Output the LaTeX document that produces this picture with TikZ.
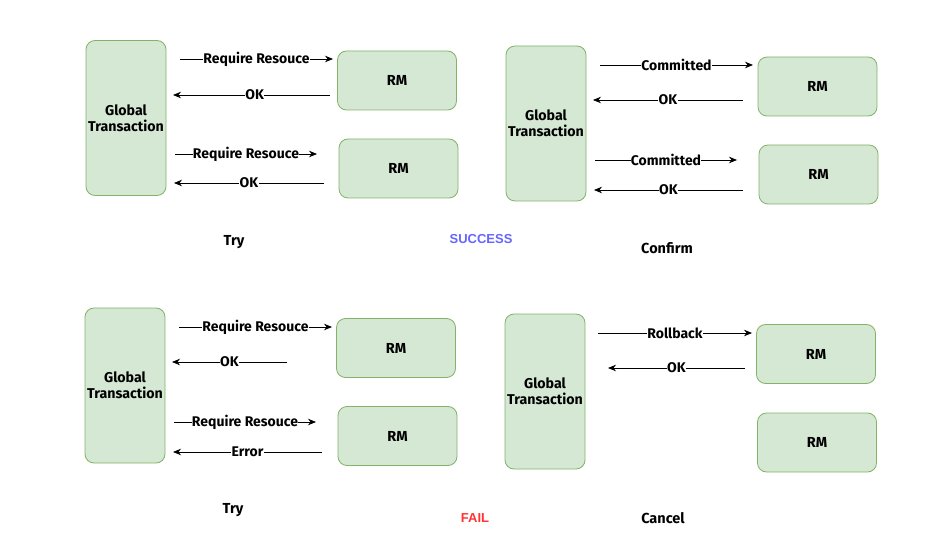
\documentclass[tikz,border=0pt]{standalone}
\usepackage{fontspec}
\setmainfont{Fira Sans}
\newfontfamily\hvfont{Liberation Sans}
\usetikzlibrary{arrows.meta}
\definecolor{boxfill}{HTML}{D5E8D4}
\definecolor{boxline}{HTML}{82B366}
\definecolor{succ}{HTML}{6666FF}
\definecolor{failc}{HTML}{FF3333}
\begin{document}
\begin{tikzpicture}[x=1pt,y=-1pt,
  gbox/.style={draw=boxline,fill=boxfill,rounded corners=9pt,line width=0.8pt,
    minimum width=80pt,minimum height=155pt,align=center,inner sep=0pt,
    font=\fontsize{14.2}{16}\selectfont\bfseries},
  rmbox/.style={draw=boxline,fill=boxfill,rounded corners=9pt,line width=0.8pt,
    minimum width=119pt,minimum height=59pt,inner sep=0pt,
    font=\fontsize{14.5}{16}\selectfont\bfseries},
  msg/.style={draw=black,line width=0.8pt,-{Stealth[length=8pt,width=6.5pt]}},
  lbl/.style={fill=white,inner sep=0.3pt,font=\fontsize{14}{16}\selectfont\bfseries},
  captxt/.style={font=\fontsize{14.5}{16}\selectfont\bfseries},
  tagtxt/.style={font=\fontsize{13}{15}\selectfont\hvfont\bfseries}]
\useasboundingbox[fill=white] (0,0) rectangle (944,534);
% ---------- Panel 1: Try (success)
\node[gbox] (g1) at (126,118) {Global\\Transaction};
\node[rmbox] (r1a) at (397,80.5) {RM};
\node[rmbox] (r1b) at (398.5,168.5) {RM};
\coordinate (p1a) at (180,59); \coordinate (q1a) at (333,59);
\coordinate (p1b) at (330,95); \coordinate (q1b) at (173,95);
\coordinate (p1c) at (175,154); \coordinate (q1c) at (317,154);
\coordinate (p1d) at (324,183); \coordinate (q1d) at (174,183);
\draw[msg] (p1a) -- node[lbl]{Require Resouce} (q1a);
\draw[msg] (p1b) -- node[lbl,pos=0.48]{OK} (q1b);
\draw[msg] (p1c) -- node[lbl]{Require Resouce} (q1c);
\draw[msg] (p1d) -- node[lbl]{OK} (q1d);
\node[captxt] (t1) at (234,242) {Try};
% ---------- Panel 2: Confirm
\node[gbox] (g2) at (546,123.5) {Global\\Transaction};
\node[rmbox] (r2a) at (817.5,86.5) {RM};
\node[rmbox] (r2b) at (818.5,174.5) {RM};
\coordinate (p2a) at (600,65); \coordinate (q2a) at (753,65);
\coordinate (p2b) at (743,100); \coordinate (q2b) at (593,100);
\coordinate (p2c) at (595,160); \coordinate (q2c) at (737,160);
\coordinate (p2d) at (743,190); \coordinate (q2d) at (594,190);
\draw[msg] (p2a) -- node[lbl]{Committed} (q2a);
\draw[msg] (p2b) -- node[lbl]{OK} (q2b);
\draw[msg] (p2c) -- node[lbl]{Committed} (q2c);
\draw[msg] (p2d) -- node[lbl]{OK} (q2d);
\node[captxt] (t2) at (667,248) {Confirm};
\node[tagtxt,text=succ] (s) at (481,239) {SUCCESS};
% ---------- Panel 3: Try (fail)
\node[gbox] (g3) at (125,385.5) {Global\\Transaction};
\node[rmbox] (r3a) at (396,348) {RM};
\node[rmbox] (r3b) at (397.5,436) {RM};
\coordinate (p3a) at (179,327); \coordinate (q3a) at (332,327);
\coordinate (p3b) at (287,362); \coordinate (q3b) at (172,362);
\coordinate (p3c) at (174,422); \coordinate (q3c) at (316,422);
\coordinate (p3d) at (322,452); \coordinate (q3d) at (173,452);
\draw[msg] (p3a) -- node[lbl]{Require Resouce} (q3a);
\draw[msg] (p3b) -- node[lbl]{OK} (q3b);
\draw[msg] (p3c) -- node[lbl]{Require Resouce} (q3c);
\draw[msg] (p3d) -- node[lbl]{Error} (q3d);
\node[captxt] (t3) at (233,510) {Try};
% ---------- Panel 4: Cancel
\node[gbox] (g4) at (545,391.5) {Global\\Transaction};
\node[rmbox] (r4a) at (816,354) {RM};
\node[rmbox] (r4b) at (817,442.5) {RM};
\coordinate (p4a) at (598,333); \coordinate (q4a) at (752,333);
\coordinate (p4b) at (745,368); \coordinate (q4b) at (608,368);
\draw[msg] (p4a) -- node[lbl]{Rollback} (q4a);
\draw[msg] (p4b) -- node[lbl]{OK} (q4b);
\node[captxt] (t4) at (663,518) {Cancel};
\node[tagtxt,text=failc] (f) at (475,518) {FAIL};
\end{tikzpicture}
\end{document}
